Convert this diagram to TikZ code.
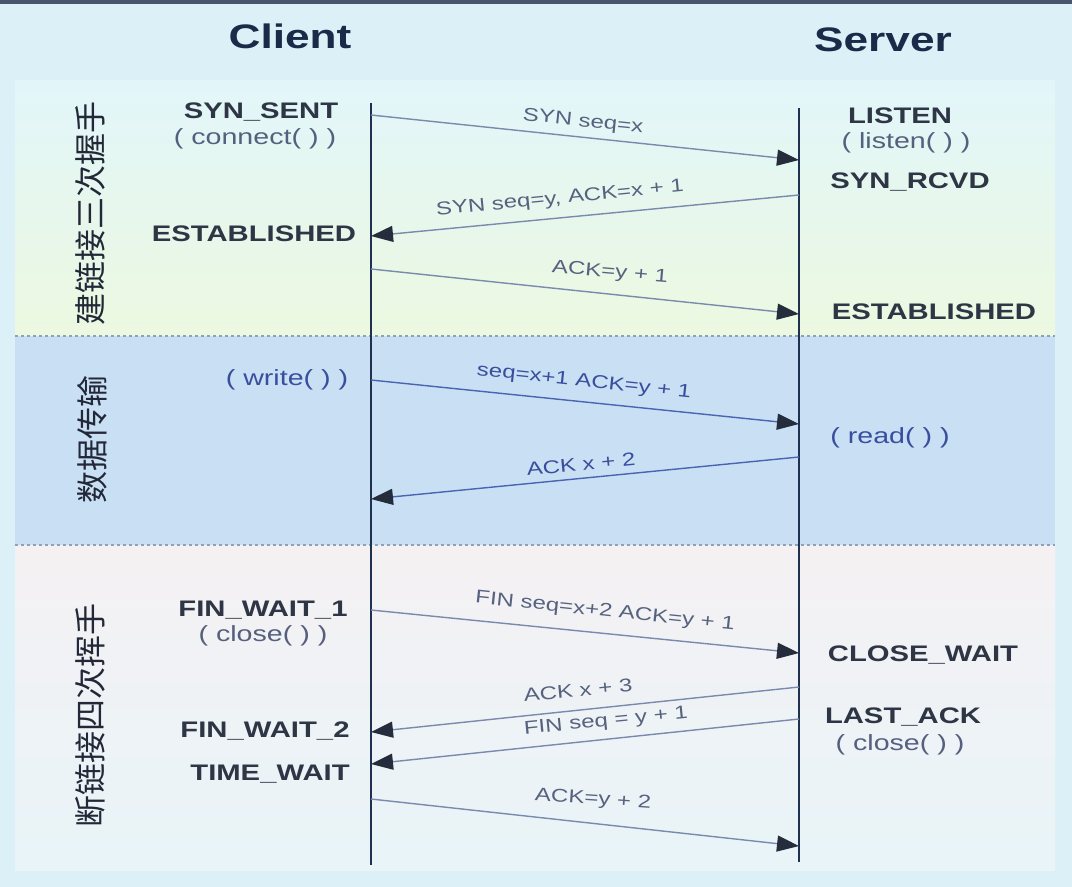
\documentclass[tikz,border=0pt]{standalone}
\usepackage{fontspec}
\setmainfont[FakeStretch=1.3]{Liberation Sans}
\newfontfamily\cjk{Noto Sans CJK SC}
\usetikzlibrary{arrows.meta}
\definecolor{bgcol}{HTML}{DCF1F7}
\definecolor{ponetop}{HTML}{E2F6FA}
\definecolor{ponebot}{HTML}{ECF8E0}
\definecolor{ptwo}{HTML}{C9DFF3}
\definecolor{pthreetop}{HTML}{F5F1F3}
\definecolor{pthreebot}{HTML}{E8F4F8}
\definecolor{titlecol}{HTML}{1B2A48}
\definecolor{statecol}{HTML}{2E3545}
\definecolor{callcol}{HTML}{56607E}
\definecolor{msgcol}{HTML}{56627F}
\definecolor{msgblue}{HTML}{3A4E9E}
\definecolor{lifecol}{HTML}{1F3050}
\definecolor{arrcol}{HTML}{7A8AAE}
\definecolor{arrblue}{HTML}{4A64B4}
\definecolor{headcol}{HTML}{252C3C}
\definecolor{sepcol}{HTML}{8CA2BA}
\definecolor{cjkcol}{HTML}{222838}
\tikzset{
  x=1pt, y=-1pt,
  titletext/.style={font=\fontsize{34}{38}\selectfont\bfseries, text=titlecol, inner sep=0},
  state/.style={font=\fontsize{22.5}{25}\selectfont\bfseries, text=statecol, inner sep=0},
  call/.style={font=\fontsize{22}{25}\selectfont, text=callcol, inner sep=0},
  msg/.style={font=\fontsize{18.5}{20}\selectfont, text=msgcol, inner sep=0},
  msgb/.style={msg, text=msgblue},
  phase/.style={font=\fontsize{32}{34}\selectfont\cjk, text=cjkcol, rotate=90, inner sep=0},
  life/.style={line width=2pt, draw=lifecol},
  arr/.style={line width=1.4pt, draw=arrcol, -{Triangle[length=22pt,width=16pt,color=headcol]}},
  arrb/.style={arr, draw=arrblue},
  sep/.style={draw=sepcol, line width=1.2pt, dash pattern=on 3pt off 3pt},
}
\begin{document}
\begin{tikzpicture}
\useasboundingbox (0,0) rectangle (1072,887);
% backgrounds
\fill[bgcol] (0,0) rectangle (1072,887);
\fill[titlecol!80] (0,0) rectangle (1072,4);
\shade[top color=ponetop, bottom color=ponebot] (15,80) rectangle (1055,336);
\fill[ptwo] (15,336) rectangle (1055,545);
\shade[top color=pthreetop, bottom color=pthreebot] (15,545) rectangle (1055,870);
\draw[sep] (15,336) -- (1055,336);
\draw[sep] (15,545) -- (1055,545);

% titles
\node[titletext] (client) at (290,36) {Client};
\node[titletext] (server) at (883,40) {Server};

% phase labels
\node[phase] (ph1) at (90,213) {建链接三次握手};
\node[phase] (ph2) at (92,439) {数据传输};
\node[phase] (ph3) at (90,715) {断链接四次挥手};

% lifelines
\coordinate (ctop) at (371,103);
\coordinate (cbot) at (371,865);
\coordinate (stop) at (799,108);
\coordinate (sbot) at (799,862);
\draw[life] (ctop) -- (cbot);
\draw[life] (stop) -- (sbot);

% message end points
\coordinate (c1) at (371,115); \coordinate (s1) at (799,160);
\coordinate (s2) at (799,195); \coordinate (c2) at (371,236);
\coordinate (c3) at (371,269); \coordinate (s3) at (799,314);
\coordinate (c4) at (371,380); \coordinate (s4) at (799,424);
\coordinate (s5) at (799,457); \coordinate (c5) at (371,499);
\coordinate (c6) at (371,610); \coordinate (s6) at (799,653);
\coordinate (s7) at (799,687); \coordinate (c7) at (371,732);
\coordinate (s8) at (799,719); \coordinate (c8) at (371,764);
\coordinate (c9) at (371,799); \coordinate (s9) at (799,846);

\draw[arr] (c1) -- (s1);
\draw[arr] (s2) -- (c2);
\draw[arr] (c3) -- (s3);
\draw[arrb] (c4) -- (s4);
\draw[arrb] (s5) -- (c5);
\draw[arr] (c6) -- (s6);
\draw[arr] (s7) -- (c7);
\draw[arr] (s8) -- (c8);
\draw[arr] (c9) -- (s9);

% message labels
\node[msg, rotate=-6] (m1) at (583,122) {SYN seq=x};
\node[msg, rotate=5.5] (m2) at (560,199) {SYN seq=y, ACK=x + 1};
\node[msg, rotate=-5] (m3) at (610,273) {ACK=y + 1};
\node[msgb, rotate=-6] (m4) at (584,382) {seq=x+1 ACK=y + 1};
\node[msgb, rotate=5.5] (m5) at (581,464) {ACK x + 2};
\node[msg, rotate=-6] (m6) at (605,612) {FIN seq=x+2 ACK=y + 1};
\node[msg, rotate=5.5] (m7) at (578,690) {ACK x + 3};
\node[msg, rotate=5.5] (m8) at (606,722) {FIN seq = y + 1};
\node[msg, rotate=-4] (m9) at (593,800) {ACK=y + 2};

% client states
\node[state] (synsent) at (261,112) {SYN\_SENT};
\node[call] (connect) at (255,139) {( connect( ) )};
\node[state] (cest) at (254,234) {ESTABLISHED};
\node[call, text=msgblue] (write) at (287,380) {( write( ) )};
\node[state] (fw1) at (263,610) {FIN\_WAIT\_1};
\node[call] (cclose) at (263,636) {( close( ) )};
\node[state] (fw2) at (265,731) {FIN\_WAIT\_2};
\node[state] (tw) at (270,774) {TIME\_WAIT};

% server states
\node[state] (listen) at (900,116) {LISTEN};
\node[call] (listenc) at (906,143) {( listen( ) )};
\node[state] (synrcvd) at (910,182) {SYN\_RCVD};
\node[state] (sest) at (934,312) {ESTABLISHED};
\node[call, text=msgblue] (read) at (890,438) {( read( ) )};
\node[state] (cw) at (923,655) {CLOSE\_WAIT};
\node[state] (la) at (903,717) {LAST\_ACK};
\node[call] (sclose) at (900,745) {( close( ) )};
\end{tikzpicture}
\end{document}
